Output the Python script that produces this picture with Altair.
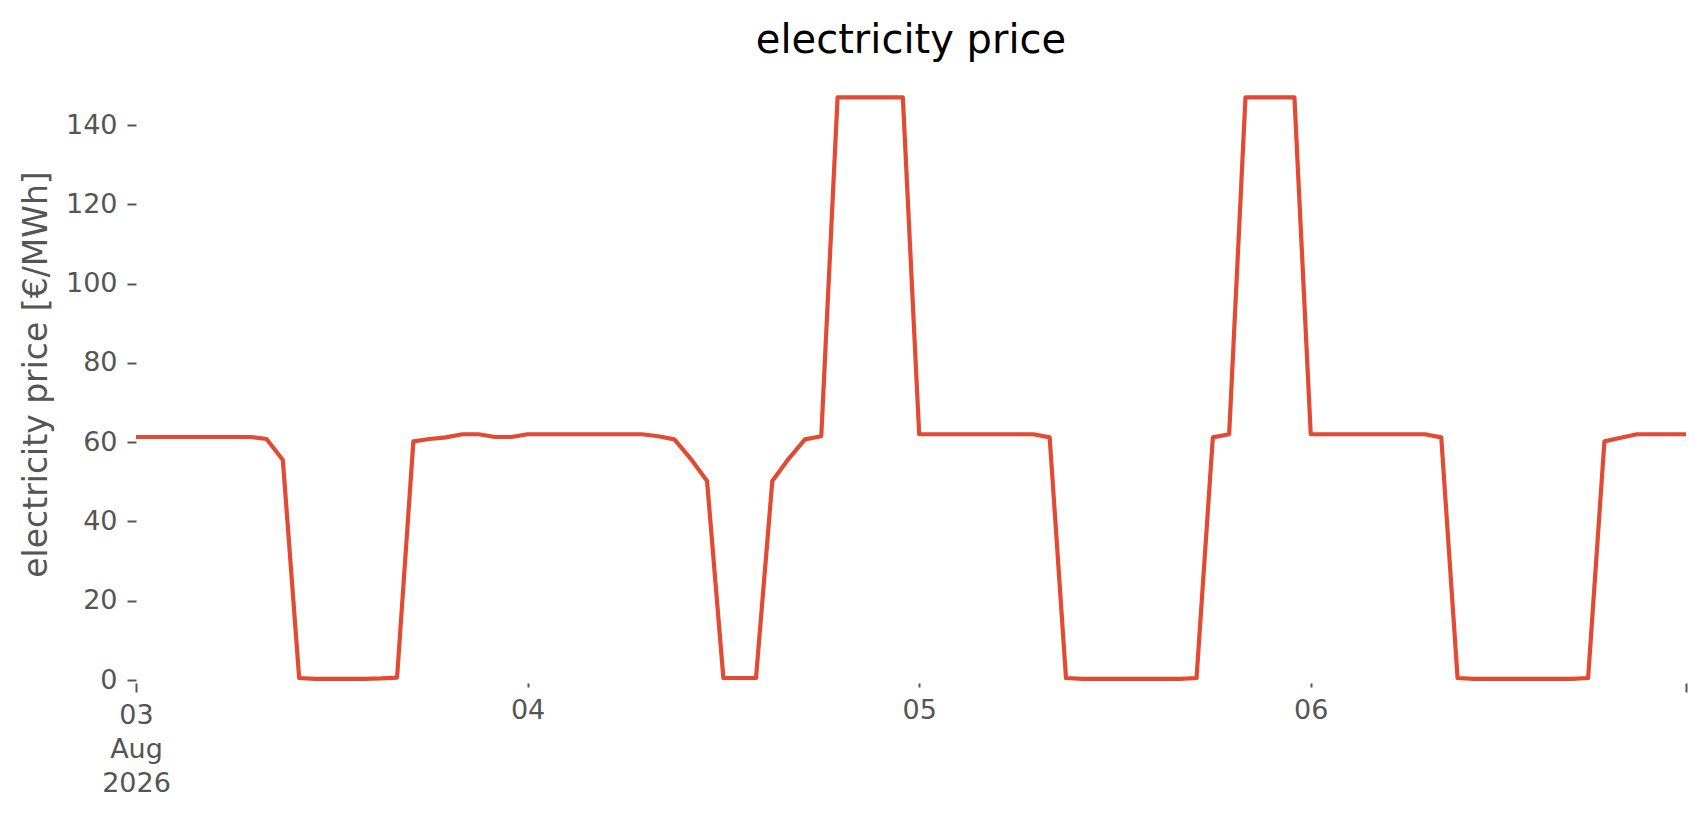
import altair as alt
import pandas as pd

# ---------------- data (hourly prices, €/MWh) ----------------
aug03 = [61.3, 61.3, 61.3, 61.3, 61.3, 61.3, 61.3, 61.3, 60.8, 55.5, 0.5, 0.3,
         0.3, 0.3, 0.3, 0.4, 0.6, 60.2, 60.8, 61.2, 62.0, 62.0, 61.3, 61.3]
aug04 = [62.0, 62.0, 62.0, 62.0, 62.0, 62.0, 62.0, 62.0, 61.5, 60.7, 55.8, 50.2,
         0.5, 0.5, 0.5, 50.2, 55.8, 60.7, 61.5, 147.0, 147.0, 147.0, 147.0, 147.0]
aug05 = [62.0, 62.0, 62.0, 62.0, 62.0, 62.0, 62.0, 62.0, 61.2, 0.5, 0.3, 0.3,
         0.3, 0.3, 0.3, 0.3, 0.3, 0.5, 61.2, 62.0, 147.0, 147.0, 147.0, 147.0]
aug06 = [62.0, 62.0, 62.0, 62.0, 62.0, 62.0, 62.0, 62.0, 61.2, 0.5, 0.3, 0.3,
         0.3, 0.3, 0.3, 0.3, 0.3, 0.5, 60.2, 61.1, 62.0, 62.0, 62.0, 62.0]

start_time = "2026-08-03 00:00"
end_time = "2026-08-06 23:00"

y_ticks = [0, 20, 40, 60, 80, 100, 120, 140]

# major ticks (long) and minor ticks (short) on the time axis
major_ticks = [(2026, 8, 3, 0), (2026, 8, 6, 23)]
major_labels = [["03", "Aug", "2026"], [""]]
minor_ticks = [(2026, 8, 4, 0), (2026, 8, 5, 0), (2026, 8, 6, 0)]
minor_labels = [["04"], ["05"], ["06"]]

title_text = "electricity price"
y_title = "electricity price [€/MWh]"

# ---------------- table ----------------
prices = aug03 + aug04 + aug05 + aug06
times = pd.date_range(start_time, end_time, freq="h", tz="UTC")
df = pd.DataFrame({"time": times.strftime("%Y-%m-%dT%H:%M:%SZ"), "price": prices})


def dt(t):
    return alt.DateTime(year=t[0], month=t[1], date=t[2], hours=t[3], utc=True)


def label_expr(ticks, labels):
    parts = []
    for t, lab in zip(ticks, labels):
        key = f"{t[0]:04d}-{t[1]:02d}-{t[2]:02d} {t[3]:02d}"
        arr = "[" + ",".join(f"'{s}'" for s in lab) + "]"
        parts.append(f"utcFormat(datum.value,'%Y-%m-%d %H')=='{key}' ? {arr} : ")
    return "".join(parts) + "''"


FONT = "DejaVu Sans"
GREY = "#555555"

x_scale = alt.Scale(type="utc", domain=[dt((2026, 8, 3, 0)), dt((2026, 8, 6, 23))], nice=False)
y_scale = alt.Scale(domain=[0, 154.4], nice=False, zero=False)

common_axis = dict(
    orient="bottom", domain=False, grid=False, tickColor=GREY, tickWidth=2, labelColor=GREY,
    labelFont=FONT, labelFontSize=27, labelPadding=10, labelFlush=False,
    labelOverlap=False, labelBound=False, labelLineHeight=34, title=None, offset=3,
    labelBaseline="top",
)

minor_axis = alt.Axis(values=[dt(t) for t in minor_ticks],
                      labelExpr=label_expr(minor_ticks, minor_labels),
                      tickSize=4, **common_axis)
major_axis = alt.Axis(values=[dt(t) for t in major_ticks],
                      labelExpr=label_expr(major_ticks, major_labels),
                      tickSize=9, **common_axis)

y_axis = alt.Axis(values=y_ticks, domain=False, grid=False, tickSize=9, tickWidth=2,
                  tickColor=GREY, labelColor=GREY, labelFont=FONT, labelFontSize=27,
                  labelPadding=10, title=y_title, titleFont=FONT, titleFontSize=33,
                  titleColor=GREY, titleFontWeight="normal", titleX=-90, titleY=306,
                  titleAngle=270, titleAlign="center", titleBaseline="alphabetic")

line = alt.Chart(df).mark_line(color="#E24A33", strokeWidth=4.2, strokeJoin="round").encode(
    x=alt.X("time:T", scale=x_scale, axis=minor_axis),
    y=alt.Y("price:Q", scale=y_scale, axis=y_axis),
)

ticks_layer = alt.Chart(df).mark_point(opacity=0).encode(
    x=alt.X("time:T", scale=x_scale, axis=major_axis),
    y=alt.Y("price:Q", scale=y_scale, axis=None),
)

chart = alt.layer(line, ticks_layer).resolve_axis(x="independent", y="independent").properties(
    width=1550,
    height=612,
    autosize="none",
    background="white",
    padding={"left": 128, "top": 60, "right": 12, "bottom": 130},
    title=alt.TitleParams(title_text, font=FONT, fontSize=40, fontWeight="normal",
                          color="#000000", anchor="middle", offset=-25, baseline="alphabetic"),
).configure_view(stroke="transparent", strokeWidth=0)

chart.save("out.html", embed_options={"renderer": "svg", "actions": False})
